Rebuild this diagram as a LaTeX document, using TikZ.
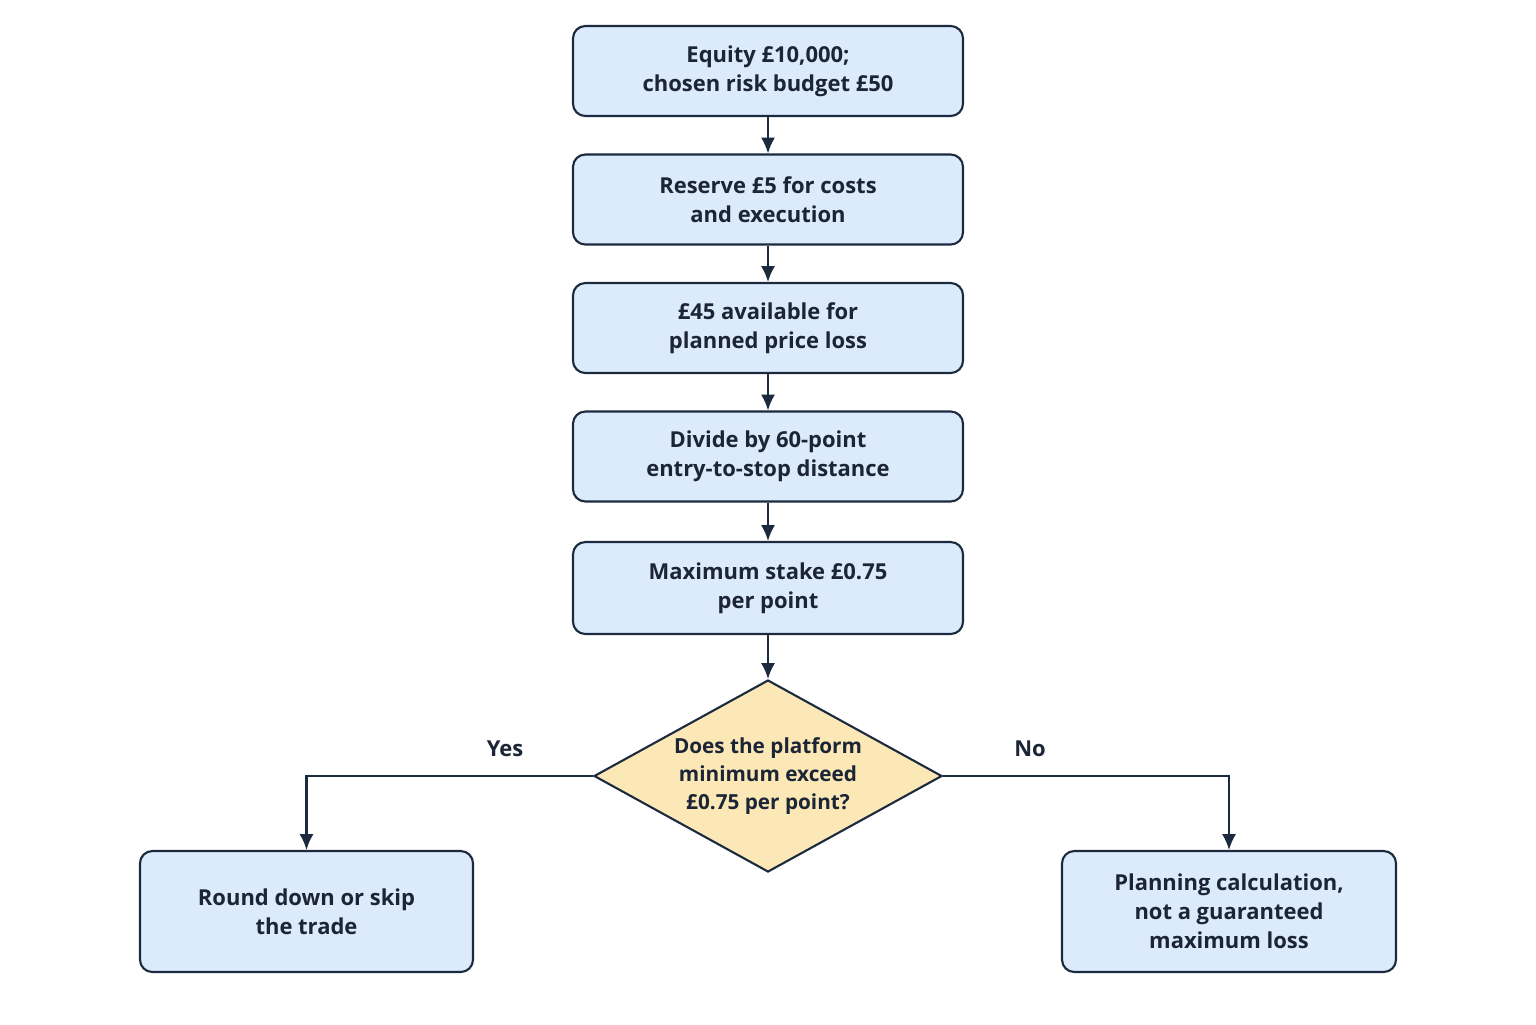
\documentclass[tikz,border=0pt]{standalone}
\usepackage{fontspec}
\setmainfont{Open Sans}
\usetikzlibrary{shapes.geometric,arrows.meta}

\definecolor{boxblue}{HTML}{DCEBFB}
\definecolor{boxline}{HTML}{1B2A3F}
\definecolor{decfill}{HTML}{FBE8B6}
\definecolor{inktext}{HTML}{1B2535}

\tikzset{
	stepbox/.style={draw=boxline, fill=boxblue, line width=1.2pt, rounded corners=7pt,
		minimum width=7.8cm, minimum height=1.8cm, align=center, text=inktext,
		font=\fontsize{12.5}{16.4}\selectfont\bfseries},
	decbox/.style={draw=boxline, fill=decfill, line width=1.2pt, shape=diamond,
		minimum width=6.96cm, minimum height=3.84cm, inner sep=0pt},
	arr/.style={draw=boxline, line width=1.2pt, line join=miter, -{Latex[length=9pt,width=8pt]}},
	lbl/.style={text=inktext, align=center, font=\fontsize{12.5}{16.4}\selectfont\bfseries}
}

\begin{document}
\begin{tikzpicture}
	\useasboundingbox[fill=white] (0,0) rectangle (30.72,-20.48);
	% main column
	\node[stepbox] (equity) at (15.36,-1.42) {Equity £10,000;\\chosen risk budget £50};
	\node[stepbox] (reserve) at (15.36,-3.99) {Reserve £5 for costs\\and execution};
	\node[stepbox] (avail) at (15.36,-6.56) {£45 available for\\planned price loss};
	\node[stepbox] (divide) at (15.36,-9.13) {Divide by 60-point\\entry-to-stop distance};
	\node[stepbox, minimum height=1.84cm] (stake) at (15.36,-11.76) {Maximum stake £0.75\\per point};
	\node[decbox] (minimum) at (15.36,-15.52) {};
	\node[lbl, font=\fontsize{11.8}{16}\selectfont\bfseries] (question) at (minimum.center) {Does the platform\\minimum exceed\\£0.75 per point?};
	% outcomes
	\node[stepbox, minimum width=6.66cm, minimum height=2.42cm] (round) at (6.13,-18.23) {Round down or skip\\the trade};
	\node[stepbox, minimum width=6.68cm, minimum height=2.42cm] (plan) at (24.58,-18.23) {Planning calculation,\\not a guaranteed\\maximum loss};

	\draw[arr] (equity) -- (reserve);
	\draw[arr] (reserve) -- (avail);
	\draw[arr] (avail) -- (divide);
	\draw[arr] (divide) -- (stake);
	\draw[arr] (stake) -- (minimum);
	\draw[arr] (minimum.west) -| (round.north);
	\draw[arr] (minimum.east) -| (plan.north);

	\node[lbl] (yes) at (10.1,-14.98) {Yes};
	\node[lbl] (no) at (20.6,-14.98) {No};
\end{tikzpicture}
\end{document}
